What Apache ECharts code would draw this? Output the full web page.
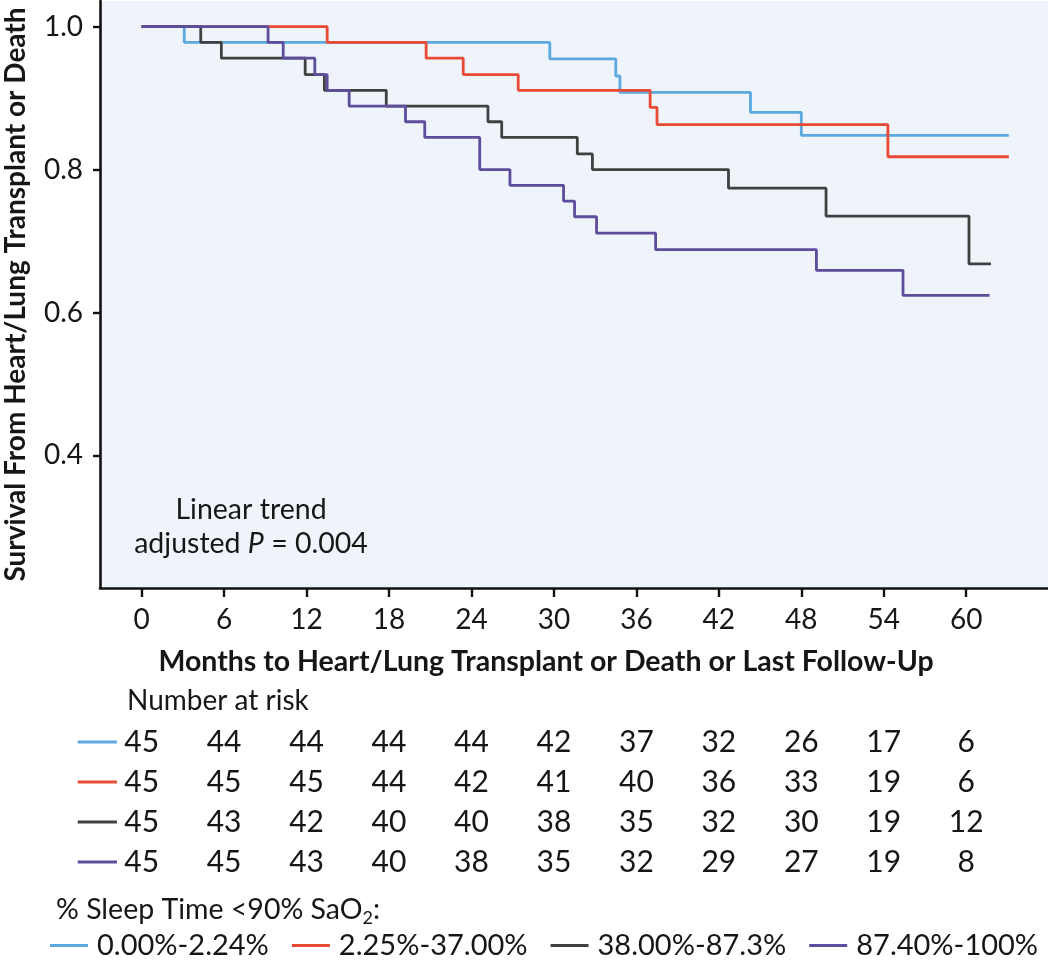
<!DOCTYPE html>
<html><head><meta charset="utf-8">
<script src="https://cdn.jsdelivr.net/npm/echarts@6/dist/echarts.min.js"></script>
<style>html,body{margin:0;padding:0;background:#fff}#c{width:1048px;height:961px}</style>
</head><body><div id="c"></div>
<script>
// ---- data ----
const groupNames = ['0.00%-2.24%', '2.25%-37.00%', '38.00%-87.3%', '87.40%-100%'];
const groupColors = ['#5CA8E0', '#E84A34', '#404040', '#5E4C9C'];

const blueTimes = [0, 3.1, 29.7, 34.5, 34.8, 44.3, 48.0, 63.1];
const blueSurv  = [1.0, 0.978, 0.955, 0.931, 0.908, 0.880, 0.848, 0.848];

const redTimes = [0, 13.5, 20.7, 23.4, 27.4, 37.0, 37.5, 54.3, 63.1];
const redSurv  = [1.0, 0.978, 0.956, 0.933, 0.911, 0.887, 0.863, 0.818, 0.818];

const blackTimes = [0, 4.3, 5.8, 11.9, 13.3, 17.8, 25.2, 26.2, 31.7, 32.8, 42.7, 49.8, 60.2, 61.8];
const blackSurv  = [1.0, 0.978, 0.956, 0.933, 0.911, 0.889, 0.867, 0.845, 0.822, 0.800, 0.774, 0.735, 0.668, 0.668];

const purpleTimes = [0, 9.2, 10.3, 12.6, 13.5, 15.1, 19.2, 20.6, 24.6, 26.8, 30.7, 31.5, 33.1, 37.4, 49.1, 55.4, 61.7];
const purpleSurv  = [1.0, 0.978, 0.956, 0.933, 0.911, 0.889, 0.867, 0.845, 0.800, 0.778, 0.756, 0.734, 0.711, 0.688, 0.659, 0.624, 0.624];

const tickMonths = [0, 6, 12, 18, 24, 30, 36, 42, 48, 54, 60];
const yTicks = [0.4, 0.6, 0.8, 1.0];

const riskBlue   = [45, 44, 44, 44, 44, 42, 37, 32, 26, 17, 6];
const riskRed    = [45, 45, 45, 44, 42, 41, 40, 36, 33, 19, 6];
const riskBlack  = [45, 43, 42, 40, 40, 38, 35, 32, 30, 19, 12];
const riskPurple = [45, 45, 43, 40, 38, 35, 32, 29, 27, 19, 8];

// ---- build ----
const curves = [[blueTimes, blueSurv], [redTimes, redSurv], [blackTimes, blackSurv], [purpleTimes, purpleSurv]];
const riskRows = [riskBlue, riskRed, riskBlack, riskPurple];
const FONT = 'Lato, "Open Sans", sans-serif';
const TXT = '#161616';

const riskData = [];
riskRows.forEach((row, r) => row.forEach((v, c) => riskData.push([tickMonths[c], r, v, c])));

const lineSeries = curves.map((cv, i) => ({
  name: groupNames[i],
  type: 'line',
  step: 'end',
  xAxisIndex: 0, yAxisIndex: 0,
  data: cv[0].map((t, k) => [t, cv[1][k]]),
  showSymbol: false,
  symbol: 'none',
  color: groupColors[i],
  lineStyle: { width: 2.8, color: groupColors[i] },
  z: 2 + i,
  animation: false
}));

const chart = echarts.init(document.getElementById('c'), null, { renderer: 'canvas' });
chart.setOption({
  animation: false,
  backgroundColor: '#ffffff',
  grid: [
    { left: 100, right: 0, top: 1, bottom: 373, show: true, backgroundColor: '#EFF4FB', borderWidth: 0, containLabel: false, outerBoundsMode: 'none' },
    { left: 100, right: 0, top: 722, height: 160, show: false, containLabel: false, outerBoundsMode: 'none' }
  ],
  xAxis: [
    {
      type: 'value', gridIndex: 0, min: -3.03, max: 65.95,
      name: 'Months to Heart/Lung Transplant or Death or Last Follow-Up',
      nameLocation: 'middle', nameGap: 59,
      nameTextStyle: { fontFamily: FONT, fontWeight: 'bold', fontSize: 28.5, color: TXT, padding: [0, 56, 0, 0] },
      axisLine: { show: true, onZero: false, lineStyle: { color: '#111', width: 2.6 } },
      axisTick: { show: true, length: 9, inside: false, customValues: tickMonths, lineStyle: { color: '#111', width: 2.4 } },
      axisLabel: { show: true, customValues: tickMonths, margin: 18, fontFamily: FONT, fontSize: 28, color: TXT },
      splitLine: { show: false }
    },
    { type: 'value', gridIndex: 1, min: -3.03, max: 65.95, show: false }
  ],
  yAxis: [
    {
      type: 'value', gridIndex: 0, min: 0.2144, max: 1.036,
      name: 'Survival From Heart/Lung Transplant or Death',
      nameLocation: 'middle', nameRotate: 90, nameGap: 70,
      nameTextStyle: { fontFamily: FONT, fontWeight: 'bold', fontSize: 28, color: TXT },
      axisLine: { show: true, onZero: false, lineStyle: { color: '#111', width: 2.6 } },
      axisTick: { show: true, length: 7, inside: false, customValues: yTicks, lineStyle: { color: '#111', width: 2.4 } },
      axisLabel: { show: true, customValues: yTicks, margin: 17, fontFamily: FONT, fontSize: 28, color: TXT, formatter: v => v.toFixed(1) },
      splitLine: { show: false }
    },
    { type: 'category', gridIndex: 1, data: ['0', '1', '2', '3'], inverse: true, show: false }
  ],
  legend: {
    data: groupNames,
    left: 50, top: 931, width: 998, padding: 0,
    orient: 'horizontal',
    icon: 'rect', itemWidth: 38, itemHeight: 3, itemGap: 23,
    textStyle: { fontFamily: FONT, fontSize: 29, color: TXT, padding: [0, 0, 0, 4] },
    selectedMode: false
  },
  series: lineSeries.concat([{
    type: 'custom',
    xAxisIndex: 1, yAxisIndex: 1,
    data: riskData,
    clip: false,
    silent: true,
    renderItem: (params, api) => {
      const p = api.coord([api.value(0), api.value(1)]);
      const children = [{
        type: 'text', x: p[0], y: p[1],
        style: { text: String(api.value(2)), fill: TXT, fontFamily: FONT, fontSize: 30, align: 'center', verticalAlign: 'middle' }
      }];
      if (api.value(3) === 0) {
        const a = api.coord([-4.65, api.value(1)]);
        const b = api.coord([-1.8, api.value(1)]);
        children.push({
          type: 'line', shape: { x1: a[0], y1: a[1], x2: b[0], y2: b[1] },
          style: { stroke: groupColors[api.value(1)], lineWidth: 3 }
        });
      }
      return { type: 'group', children };
    }
  }]),
  graphic: [
    {
      type: 'text', left: 127, top: 687,
      style: { text: 'Number at risk', fill: TXT, fontFamily: FONT, fontSize: 28 }
    },
    {
      type: 'text', x: 251, y: 493,
      style: {
        text: 'Linear trend\nadjusted {i|P} = 0.004',
        fill: TXT, fontFamily: FONT, fontSize: 28.5, lineHeight: 34, align: 'center', verticalAlign: 'top',
        rich: { i: { fontStyle: 'italic', fontFamily: FONT, fontSize: 28.5, fill: TXT } }
      }
    },
    {
      type: 'text', left: 56, top: 893,
      style: {
        text: '% Sleep Time <90% SaO{s|2}:',
        fill: TXT, fontFamily: FONT, fontSize: 28.5, lineHeight: 34,
        rich: { s: { fontFamily: FONT, fontSize: 18, fill: TXT, verticalAlign: 'bottom', lineHeight: 34, padding: [10, 0, 0, 0] } }
      }
    }
  ]
});
</script></body></html>
